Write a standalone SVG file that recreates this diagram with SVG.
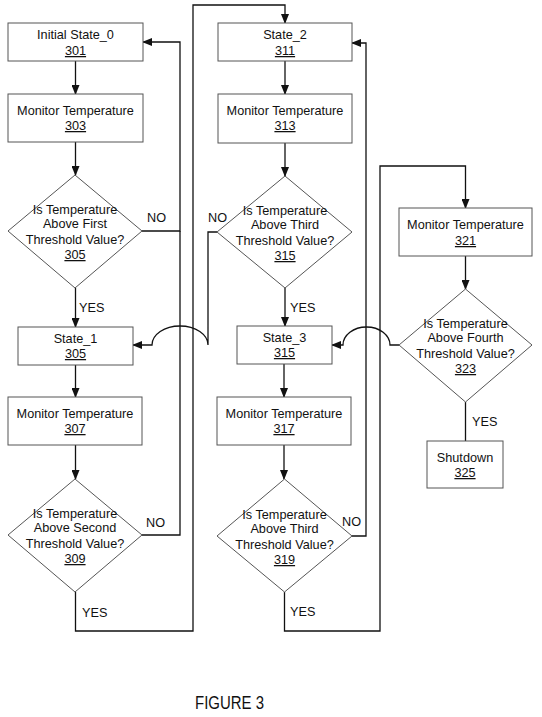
<svg xmlns="http://www.w3.org/2000/svg" width="542" height="717" viewBox="0 0 542 717">
<style>
.box{fill:#fff;stroke:#555;stroke-width:1}
.t{font-family:"Liberation Sans",Arial,sans-serif;font-size:12.7px;fill:#111;text-anchor:middle}
.l{font-family:"Liberation Sans",Arial,sans-serif;font-size:12.7px;fill:#111}
.u{text-decoration:underline}
.c{fill:none;stroke:#111;stroke-width:1.3}
</style>
<defs>
<marker id="ah" markerWidth="10" markerHeight="8" refX="9" refY="4" orient="auto" markerUnits="userSpaceOnUse">
<path d="M0,0 L10,4 L0,8 Z" fill="#111"/>
</marker>
</defs>
<rect width="542" height="717" fill="#fff"/>
<g id="connectors">
<path class="c" d="M75.5,61 V94" marker-end="url(#ah)"/>
<path class="c" d="M75.5,142 V175" marker-end="url(#ah)"/>
<path class="c" d="M75.5,288 V327" marker-end="url(#ah)"/>
<path class="c" d="M142,231 H180 V42 H143" marker-end="url(#ah)"/>
<path class="c" d="M75.5,365 V397" marker-end="url(#ah)"/>
<path class="c" d="M75.5,445 V479" marker-end="url(#ah)"/>
<path class="c" d="M142,535 H180 V231"/>
<path class="c" d="M75.5,592 V631 H193 V5 H285 V23" marker-end="url(#ah)"/>
<path class="c" d="M285,61 V94" marker-end="url(#ah)"/>
<path class="c" d="M285,143 V176" marker-end="url(#ah)"/>
<path class="c" d="M285,288 V326" marker-end="url(#ah)"/>
<path class="c" d="M217,232 H208 V345 A28,19 0 0 0 152,345 H133" marker-end="url(#ah)"/>
<path class="c" d="M284,364 V397" marker-end="url(#ah)"/>
<path class="c" d="M284,445 V479" marker-end="url(#ah)"/>
<path class="c" d="M352,536 H366 V43 H352" marker-end="url(#ah)"/>
<path class="c" d="M284.5,592 V631 H380 V166 H465.5 V208" marker-end="url(#ah)"/>
<path class="c" d="M465.5,256 V289" marker-end="url(#ah)"/>
<path class="c" d="M465.5,402 V441"/>
<path class="c" d="M399,345 H390 A23.5,18 0 0 0 343,345 H332" marker-end="url(#ah)"/>
</g>
<g id="labels">
<text class="l" x="147" y="222">NO</text>
<text class="l" x="208" y="222">NO</text>
<text class="l" x="79" y="312">YES</text>
<text class="l" x="290" y="312">YES</text>
<text class="l" x="146" y="527">NO</text>
<text class="l" x="82" y="617">YES</text>
<text class="l" x="342" y="526">NO</text>
<text class="l" x="290" y="616">YES</text>
<text class="l" x="472" y="426">YES</text>
</g>
<g id="n301"><rect class="box" x="8" y="23" width="135" height="38"/><text class="t" x="75.5" y="39">Initial State_0</text><text class="t u" x="75.5" y="55">301</text></g>
<g id="n303"><rect class="box" x="8" y="94" width="135" height="48"/><text class="t" x="75.5" y="115">Monitor Temperature</text><text class="t u" x="75.5" y="130">303</text></g>
<g id="n305d"><polygon class="box" points="75,175 142,231 75,288 8,231"/><text class="t" x="75" y="214">Is Temperature</text><text class="t" x="75" y="228">Above First</text><text class="t" x="75" y="244">Threshold Value?</text><text class="t u" x="75" y="259">305</text></g>
<g id="n305"><rect class="box" x="18" y="327" width="115" height="38"/><text class="t" x="75.5" y="343">State_1</text><text class="t u" x="75.5" y="358">305</text></g>
<g id="n307"><rect class="box" x="8" y="397" width="134" height="48"/><text class="t" x="75" y="418">Monitor Temperature</text><text class="t u" x="75" y="433">307</text></g>
<g id="n309"><polygon class="box" points="75,479 142,535 75,592 8,535"/><text class="t" x="75" y="518">Is Temperature</text><text class="t" x="75" y="532">Above Second</text><text class="t" x="75" y="548">Threshold Value?</text><text class="t u" x="75" y="563">309</text></g>
<g id="n311"><rect class="box" x="218" y="23" width="134" height="38"/><text class="t" x="285" y="39">State_2</text><text class="t u" x="285" y="55">311</text></g>
<g id="n313"><rect class="box" x="218" y="94" width="134" height="49"/><text class="t" x="285" y="115">Monitor Temperature</text><text class="t u" x="285" y="130">313</text></g>
<g id="n315d"><polygon class="box" points="285,176 352,232 285,288 217,232"/><text class="t" x="285" y="215">Is Temperature</text><text class="t" x="285" y="229">Above Third</text><text class="t" x="285" y="245">Threshold Value?</text><text class="t u" x="285" y="260">315</text></g>
<g id="n315"><rect class="box" x="237" y="326" width="95" height="38"/><text class="t" x="284.5" y="342">State_3</text><text class="t u" x="284.5" y="357">315</text></g>
<g id="n317"><rect class="box" x="217" y="397" width="134" height="48"/><text class="t" x="284" y="418">Monitor Temperature</text><text class="t u" x="284" y="433">317</text></g>
<g id="n319"><polygon class="box" points="284.5,479 352,536 284.5,592 217,536"/><text class="t" x="284.5" y="519">Is Temperature</text><text class="t" x="284.5" y="533">Above Third</text><text class="t" x="284.5" y="549">Threshold Value?</text><text class="t u" x="284.5" y="564">319</text></g>
<g id="n321"><rect class="box" x="399" y="208" width="133" height="48"/><text class="t" x="465.5" y="229">Monitor Temperature</text><text class="t u" x="465.5" y="245">321</text></g>
<g id="n323"><polygon class="box" points="465.5,289 532,345 465.5,402 399,345"/><text class="t" x="465.5" y="328">Is Temperature</text><text class="t" x="465.5" y="342">Above Fourth</text><text class="t" x="465.5" y="358">Threshold Value?</text><text class="t u" x="465.5" y="373">323</text></g>
<g id="n325"><rect class="box" x="427" y="441" width="76" height="47"/><text class="t" x="465" y="462">Shutdown</text><text class="t u" x="465" y="477">325</text></g>
<text x="195" y="709" font-family="'Liberation Sans',Arial,sans-serif" font-size="17.5" fill="#111" textLength="69" lengthAdjust="spacingAndGlyphs">FIGURE 3</text>
</svg>
